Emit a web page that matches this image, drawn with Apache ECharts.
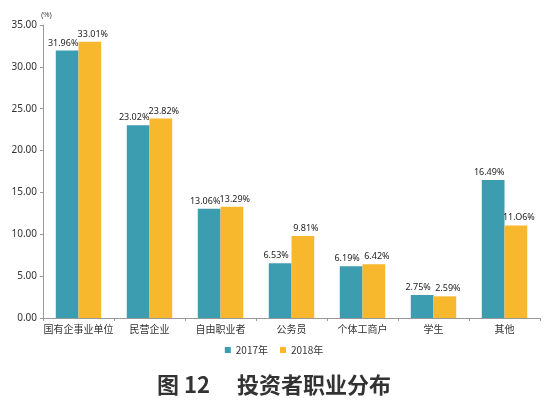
<!DOCTYPE html>
<html><head><meta charset="utf-8">
<script src="https://cdn.jsdelivr.net/npm/echarts@6/dist/echarts.min.js"></script>
<style>html,body{margin:0;padding:0;background:#fff}#c{width:548px;height:409px}</style>
</head><body><div id="c"></div>
<script>
const categories = ['国有企事业单位','民营企业','自由职业者','公务员','个体工商户','学生','其他'];
const seriesNames = ['2017年','2018年'];
const values2017 = [31.96, 23.02, 13.06, 6.53, 6.19, 2.75, 16.49];
const values2018 = [33.01, 23.82, 13.29, 9.81, 6.42, 2.59, 11.06];
const labels2018 = ['33.01%','23.82%','13.29%','9.81%','6.42%','2.59%','11.O6%'];
const chart = echarts.init(document.getElementById('c'));
const lbl = {show:true, position:'top', fontSize:9, color:'#222', fontFamily:'Noto Sans', distance:3};
chart.setOption({
  animation:false,
  title:{text:'图 12　 投资者职业分布', left:'center', top:369, textStyle:{fontSize:22, fontWeight:'bold', color:'#333', fontFamily:'Noto Sans CJK SC'}},
  legend:{data:seriesNames, left:'center', top:340, itemWidth:6, itemHeight:6, itemGap:12, icon:'rect', textStyle:{fontSize:10, color:'#333', fontFamily:'Noto Sans CJK SC'}},
  grid:{left:43, right:8, top:25, bottom:91},
  xAxis:{type:'category', data:categories, axisLine:{lineStyle:{color:'#999'}}, axisTick:{show:true, length:3, lineStyle:{color:'#999'}},
    axisLabel:{interval:0, fontSize:10, color:'#333', margin:6, fontFamily:'Noto Sans CJK SC'}},
  yAxis:{type:'value', min:0, max:35, interval:5, name:'(%)', nameLocation:'end', nameGap:6,
    nameTextStyle:{fontSize:7, color:'#333', align:'left', padding:[0,0,0,-2]},
    axisLine:{show:true, lineStyle:{color:'#999'}}, axisTick:{show:true, length:3, lineStyle:{color:'#999'}},
    splitLine:{show:false}, axisLabel:{fontSize:10, color:'#333', margin:6, fontFamily:'Noto Sans', formatter:v=>v.toFixed(2)}},
  series:[
    {name:seriesNames[0], type:'bar', data:values2017, barWidth:'32%', barGap:'0%', itemStyle:{color:'#3D9DB0'},
      label:Object.assign({}, lbl, {formatter:p=>p.value.toFixed(2)+'%', offset:[-4,0]})},
    {name:seriesNames[1], type:'bar', data:values2018, barWidth:'32%', itemStyle:{color:'#F7B82E'},
      label:Object.assign({}, lbl, {formatter:p=>labels2018[p.dataIndex], offset:[3,0]})}
  ]
});
</script></body></html>
